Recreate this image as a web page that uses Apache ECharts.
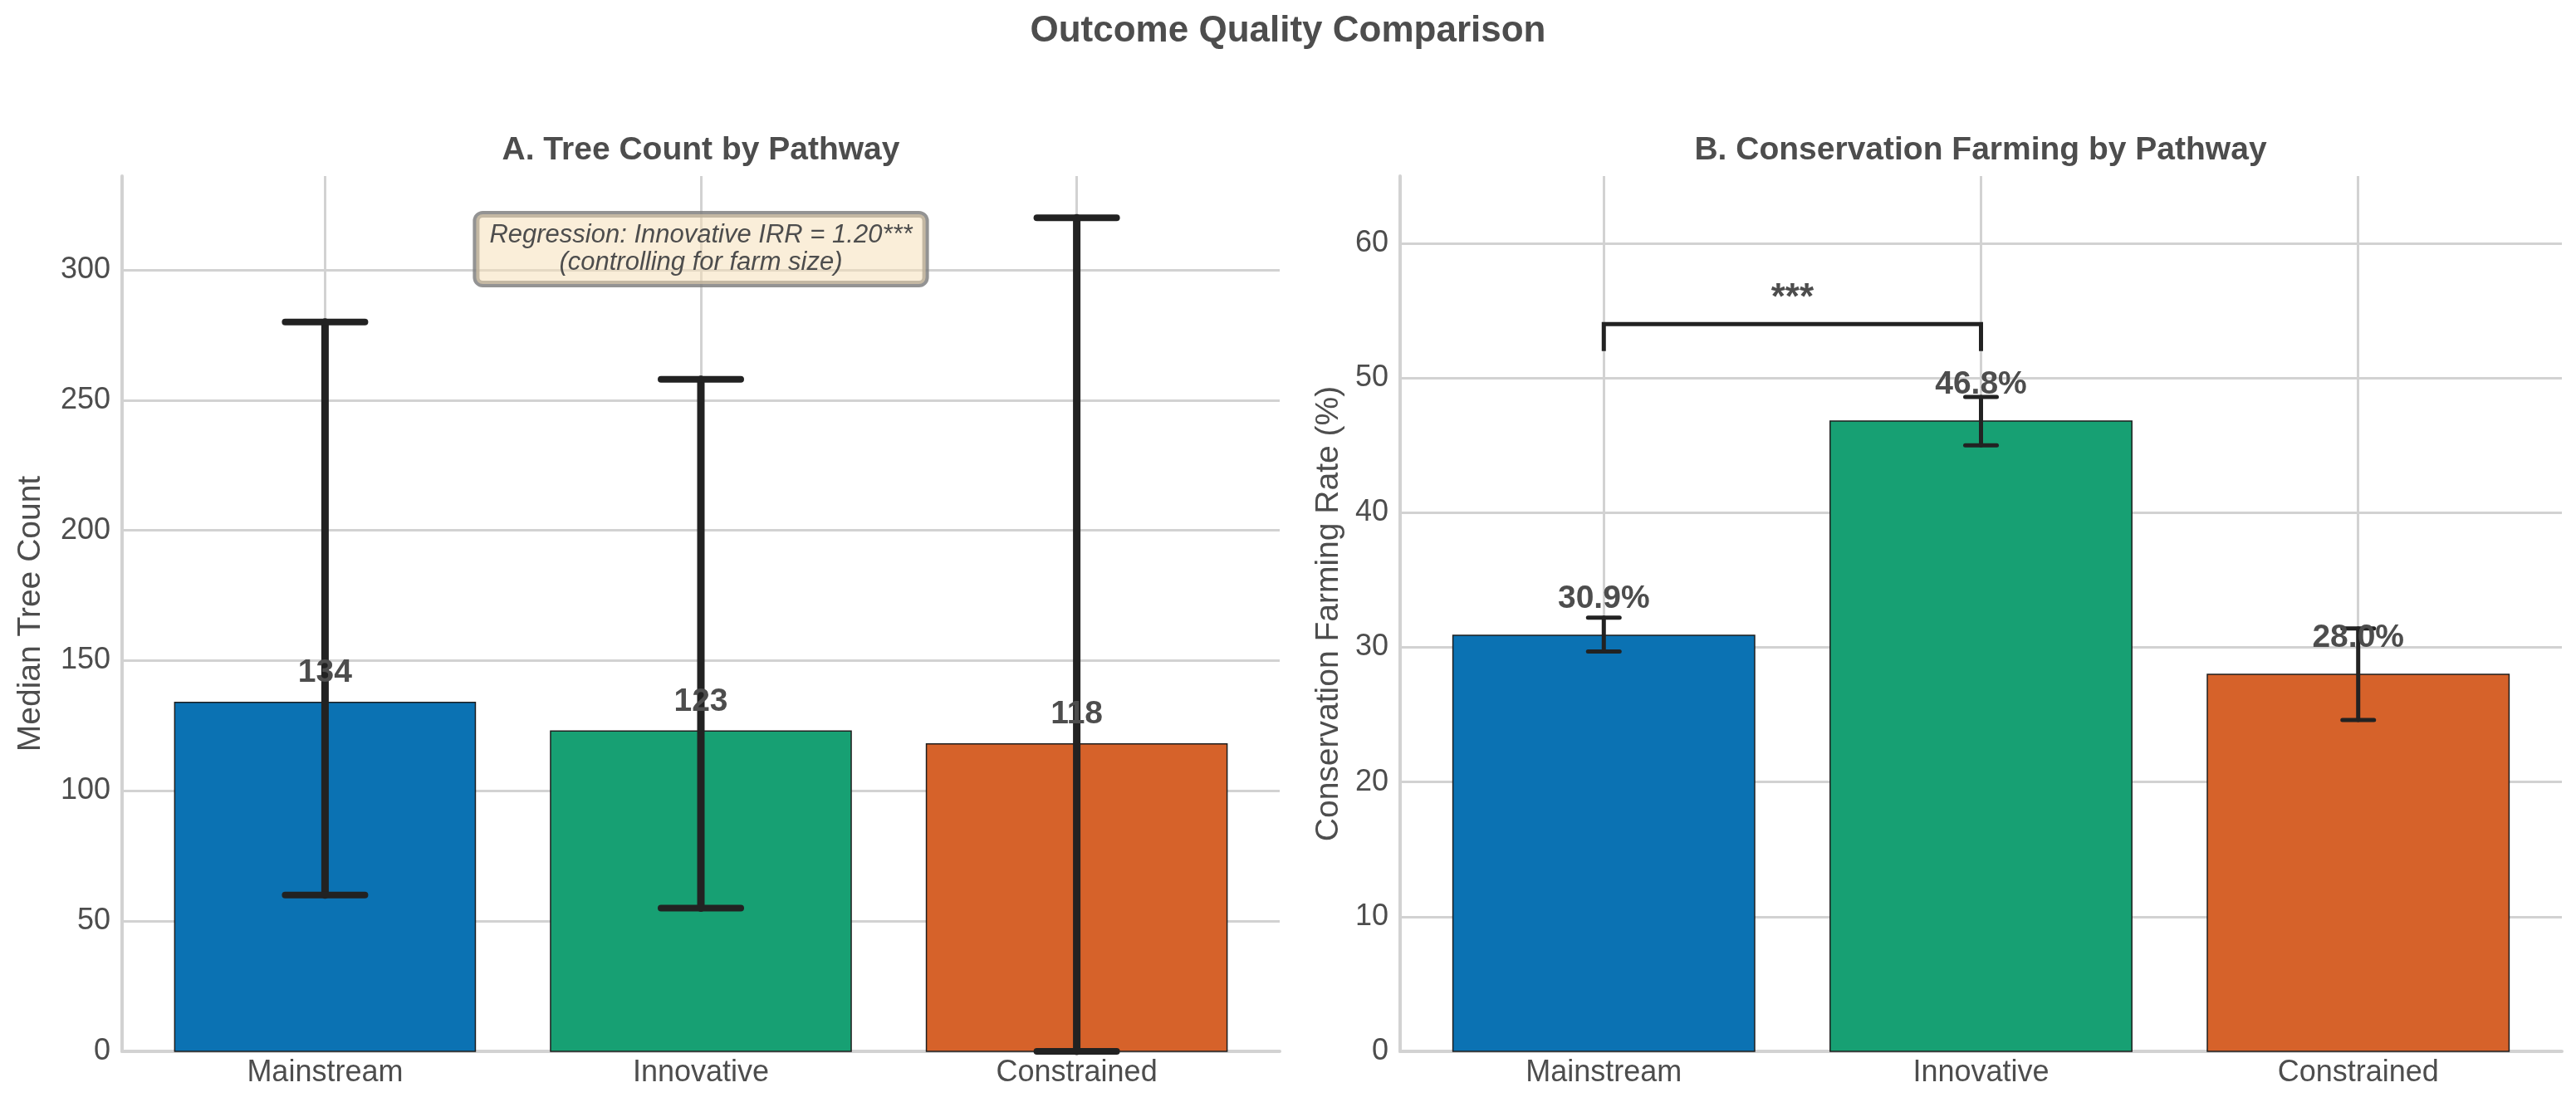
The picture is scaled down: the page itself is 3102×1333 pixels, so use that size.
<!DOCTYPE html>
<html>
<head>
<meta charset="utf-8">
<title>Outcome Quality Comparison</title>
<script src="https://cdn.jsdelivr.net/npm/echarts@6/dist/echarts.min.js"></script>
<style>
  html, body { margin: 0; padding: 0; background: #fff; }
  #main { width: 3102px; height: 1333px; }
</style>
</head>
<body>
<div id="main"></div>
<script>
// data
var pathways = ['Mainstream', 'Innovative', 'Constrained'];
var barColors = ['#0b72b3', '#17a073', '#d6622a'];

var treeMedian = [134, 123, 118];
var treeLow = [60, 55, 0];
var treeHigh = [280, 258, 320];
var treeTicks = [0, 50, 100, 150, 200, 250, 300];

var consRate = [30.9, 46.8, 28.0];
var consLow = [29.7, 45.0, 24.6];
var consHigh = [32.2, 48.6, 31.4];
var consTicks = [0, 10, 20, 30, 40, 50, 60];

var bracketFrom = 0, bracketTo = 1, bracketY = 54, bracketFoot = 52;
var sigLabel = '***';

var FONT = '"Liberation Sans", Arial, Helvetica, sans-serif';
var TXT = '#4d4d4d';
var GRIDC = '#d2d2d2';
var BAR_W = 0.8;

var chart = echarts.init(document.getElementById('main'));

function xAxisFor(gi) {
    return {
        type: 'value', gridIndex: gi, min: -0.54, max: 2.54,
        axisLine: { show: true, onZero: false, lineStyle: { color: GRIDC, width: 4 } },
        axisTick: { show: false, customValues: [0, 1, 2] },
        axisLabel: {
            customValues: [0, 1, 2], margin: 8,
            formatter: function (v) { return pathways[Math.round(v)]; },
            fontFamily: FONT, fontSize: 36, color: TXT
        },
        splitLine: { show: true, lineStyle: { color: GRIDC, width: 3 } }
    };
}

function yAxisFor(gi, max, ticks, name, gap) {
    return {
        type: 'value', gridIndex: gi, min: 0, max: max,
        name: name, nameLocation: 'middle', nameGap: gap,
        nameTextStyle: { fontFamily: FONT, fontSize: 39, color: TXT },
        axisLine: { show: true, onZero: false, lineStyle: { color: GRIDC, width: 4 } },
        axisTick: { show: false, customValues: ticks },
        axisLabel: { customValues: ticks, margin: 14, fontFamily: FONT, fontSize: 36, color: TXT },
        splitLine: { show: true, lineStyle: { color: GRIDC, width: 3 } }
    };
}

function barSeries(gi, vals) {
    return {
        type: 'custom', xAxisIndex: gi, yAxisIndex: gi, z: 2,
        data: vals.map(function (v, i) { return [i, v]; }),
        renderItem: function (params, api) {
            var i = api.value(0), v = api.value(1);
            var p0 = api.coord([i - BAR_W / 2, v]);
            var p1 = api.coord([i + BAR_W / 2, 0]);
            return {
                type: 'rect',
                shape: { x: p0[0], y: p0[1], width: p1[0] - p0[0], height: p1[1] - p0[1] },
                style: { fill: barColors[i], stroke: '#1e1e1e', lineWidth: 1.5 }
            };
        }
    };
}

function errSeries(gi, lo, hi, capHalf, lw, capLw) {
    return {
        type: 'custom', xAxisIndex: gi, yAxisIndex: gi, z: 3,
        data: lo.map(function (v, i) { return [i, v, hi[i]]; }),
        renderItem: function (params, api) {
            var i = api.value(0);
            var a = api.coord([i, api.value(1)]);
            var b = api.coord([i, api.value(2)]);
            var st = { stroke: '#222222', lineWidth: lw, lineCap: 'round' };
            var sc = { stroke: '#222222', lineWidth: capLw, lineCap: 'round' };
            return {
                type: 'group',
                children: [
                    { type: 'line', shape: { x1: a[0], y1: a[1], x2: b[0], y2: b[1] }, style: st },
                    { type: 'line', shape: { x1: a[0] - capHalf, y1: a[1], x2: a[0] + capHalf, y2: a[1] }, style: sc },
                    { type: 'line', shape: { x1: b[0] - capHalf, y1: b[1], x2: b[0] + capHalf, y2: b[1] }, style: sc }
                ]
            };
        }
    };
}

function labelSeries(gi, vals, offset, fmt) {
    return {
        type: 'custom', xAxisIndex: gi, yAxisIndex: gi, z: 5,
        data: vals.map(function (v, i) { return [i, v]; }),
        renderItem: function (params, api) {
            var i = api.value(0), v = api.value(1);
            var p = api.coord([i, v + offset]);
            return {
                type: 'text', x: p[0], y: p[1],
                style: {
                    text: fmt(v), fill: TXT, align: 'center', verticalAlign: 'bottom',
                    font: 'bold 39px ' + FONT
                }
            };
        }
    };
}

var option = {
    backgroundColor: '#ffffff',
    animation: false,
    grid: [
        { left: 147, top: 212, width: 1394, height: 1054 },
        { left: 1686, top: 212, width: 1399, height: 1054 }
    ],
    xAxis: [xAxisFor(0), xAxisFor(1)],
    yAxis: [
        yAxisFor(0, 336, treeTicks, 'Median Tree Count', 90),
        yAxisFor(1, 65, consTicks, 'Conservation Farming Rate (%)', 66)
    ],
    series: [
        barSeries(0, treeMedian),
        errSeries(0, treeLow, treeHigh, 48, 9, 8),
        labelSeries(0, treeMedian, 5, function (v) { return String(v); }),
        barSeries(1, consRate),
        errSeries(1, consLow, consHigh, 19, 5, 5),
        labelSeries(1, consRate, 1.5, function (v) { return v.toFixed(1) + '%'; }),
        {
            // significance bracket
            type: 'custom', xAxisIndex: 1, yAxisIndex: 1, z: 4,
            data: [[bracketFrom, bracketTo, bracketY, bracketFoot]],
            renderItem: function (params, api) {
                var a = api.coord([api.value(0), api.value(3)]);
                var b = api.coord([api.value(0), api.value(2)]);
                var c = api.coord([api.value(1), api.value(2)]);
                var d = api.coord([api.value(1), api.value(3)]);
                var t = api.coord([(api.value(0) + api.value(1)) / 2, api.value(2) + 0.5]);
                return {
                    type: 'group',
                    children: [
                        { type: 'polyline', shape: { points: [a, b, c, d] },
                          style: { stroke: '#222222', lineWidth: 5, fill: null } },
                        { type: 'text', x: t[0], y: t[1],
                          style: { text: sigLabel, fill: TXT, align: 'center', verticalAlign: 'bottom',
                                   font: 'bold 44px ' + FONT } }
                    ]
                };
            }
        }
    ],
    graphic: [
        { type: 'text', x: 1551, y: 38, style: { text: 'Outcome Quality Comparison', fill: TXT,
          align: 'center', verticalAlign: 'middle', font: 'bold 44px ' + FONT } },
        { type: 'text', x: 844, y: 181, style: { text: 'A. Tree Count by Pathway', fill: TXT,
          align: 'center', verticalAlign: 'middle', font: 'bold 39px ' + FONT } },
        { type: 'text', x: 2385, y: 181, style: { text: 'B. Conservation Farming by Pathway', fill: TXT,
          align: 'center', verticalAlign: 'middle', font: 'bold 39px ' + FONT } },
        { type: 'text', x: 844, y: 300, z: 10,
          style: {
            text: 'Regression: Innovative IRR = 1.20***\n(controlling for farm size)',
            fill: TXT, align: 'center', verticalAlign: 'middle',
            font: 'italic 31px ' + FONT, lineHeight: 33,
            backgroundColor: 'rgba(245,222,179,0.5)',
            borderColor: 'rgba(128,128,128,0.85)', borderWidth: 4, borderRadius: 8,
            padding: [9, 16]
          } }
    ]
};

chart.setOption(option);
</script>
</body>
</html>
